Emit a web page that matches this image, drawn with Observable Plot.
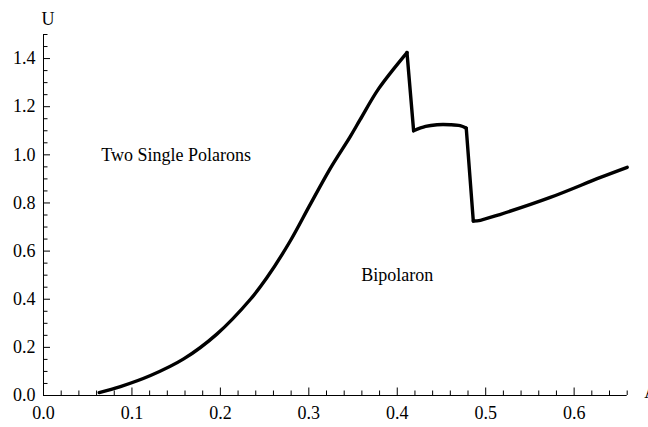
<!DOCTYPE html>
<html>
<head>
<meta charset="utf-8">
<script src="https://cdn.jsdelivr.net/npm/d3@7"></script>
<script src="https://cdn.jsdelivr.net/npm/@observablehq/plot@0.6"></script>
<style>
  html, body { margin: 0; padding: 0; background: #fff; }
</style>
</head>
<body>
<div id="chart"></div>
<script>
// Data (curve pieces meet at the sharp corners)
const A = [0.063, 0.087, 0.121, 0.1585, 0.196, 0.234, 0.2527, 0.279, 0.301, 0.324, 0.347, 0.358, 0.379, 0.411,
           0.411, 0.4185,
           0.4185, 0.432, 0.445, 0.460, 0.471, 0.478,
           0.478, 0.486,
           0.486, 0.494, 0.516, 0.573, 0.629, 0.660];
const U = [0.012, 0.037, 0.083, 0.152, 0.255, 0.400, 0.490, 0.642, 0.790, 0.942, 1.077, 1.146, 1.275, 1.425,
           1.425, 1.100,
           1.100, 1.118, 1.125, 1.125, 1.121, 1.111,
           1.111, 0.725,
           0.725, 0.728, 0.752, 0.823, 0.905, 0.948];
const piece = [1, 1, 1, 1, 1, 1, 1, 1, 1, 1, 1, 1, 1, 1,
               2, 2,
               3, 3, 3, 3, 3, 3,
               4, 4,
               5, 5, 5, 5, 5, 5];

const xLabels = [0.0, 0.1, 0.2, 0.3, 0.4, 0.5, 0.6];
const yLabels = [0.0, 0.2, 0.4, 0.6, 0.8, 1.0, 1.2, 1.4];
const xTicks = d3.range(0, 34).map(i => +(i * 0.02).toFixed(2));   // 0 .. 0.66
const yTicks = d3.range(0, 31).map(i => +(i * 0.05).toFixed(2));   // 0 .. 1.5
const annotations = [
  {a: 0.15, u: 1.0, label: "Two Single Polarons"},
  {a: 0.40, u: 0.5, label: "Bipolaron"}
];
const xName = "A";
const yName = "U";

const curve = A.map((a, i) => ({a, u: U[i], piece: piece[i]}));

const isMajorX = v => Math.abs(v * 10 - Math.round(v * 10)) < 1e-6;
const isMajorY = v => Math.abs(v * 5 - Math.round(v * 5)) < 1e-6 && v <= 1.4 + 1e-9;

const xMax = 0.66, yMax = 1.5;
const pxPerX = (648 - 43 - 21.3) / xMax;
const pxPerY = (427 - 34 - 32) / yMax;

const chart = Plot.plot({
  width: 648,
  height: 427,
  marginLeft: 43,
  marginRight: 21.3,
  marginTop: 34,
  marginBottom: 32,
  style: {fontFamily: "'Liberation Serif', 'DejaVu Serif', serif", fontSize: "18px", background: "#fff", overflow: "visible"},
  x: {domain: [0, xMax]},
  y: {domain: [0, yMax]},
  marks: [
    // axis lines
    Plot.ruleY([0], {x1: 0, x2: xMax, stroke: "#000", strokeWidth: 1}),
    Plot.ruleX([0], {y1: 0, y2: yMax, stroke: "#000", strokeWidth: 1}),
    // inward ticks
    Plot.ruleX(xTicks, {x: d => d, y1: 0, y2: d => (isMajorX(d) ? 7.5 : 4.5) / pxPerY, stroke: "#000", strokeWidth: 1}),
    Plot.ruleY(yTicks, {y: d => d, x1: 0, x2: d => (isMajorY(d) ? 7 : 4.5) / pxPerX, stroke: "#000", strokeWidth: 1}),
    // tick labels
    Plot.axisX(xLabels, {tickSize: 0, tickPadding: 11, tickFormat: d => d.toFixed(1), fontSize: 18, fill: "#000", label: null}),
    Plot.axisY(yLabels, {tickSize: 0, tickPadding: 8, tickFormat: d => d.toFixed(1), fontSize: 18, fill: "#000", label: null}),
    // curve
    Plot.line(curve, {x: "a", y: "u", z: "piece", stroke: "#000", strokeWidth: 3.4, strokeLinejoin: "round", strokeLinecap: "round", curve: "catmull-rom"}),
    // annotations
    Plot.text(annotations, {x: "a", y: "u", text: "label", fontSize: 18, fill: "#000"}),
    // axis names
    Plot.text([yName], {frameAnchor: "top-left", dx: -2, dy: -22, fontSize: 18, fill: "#000"}),
    Plot.text([xName], {frameAnchor: "bottom-right", textAnchor: "start", dx: 17, dy: 2, fontSize: 18, fill: "#000"})
  ]
});

document.getElementById("chart").appendChild(chart);
</script>
</body>
</html>
